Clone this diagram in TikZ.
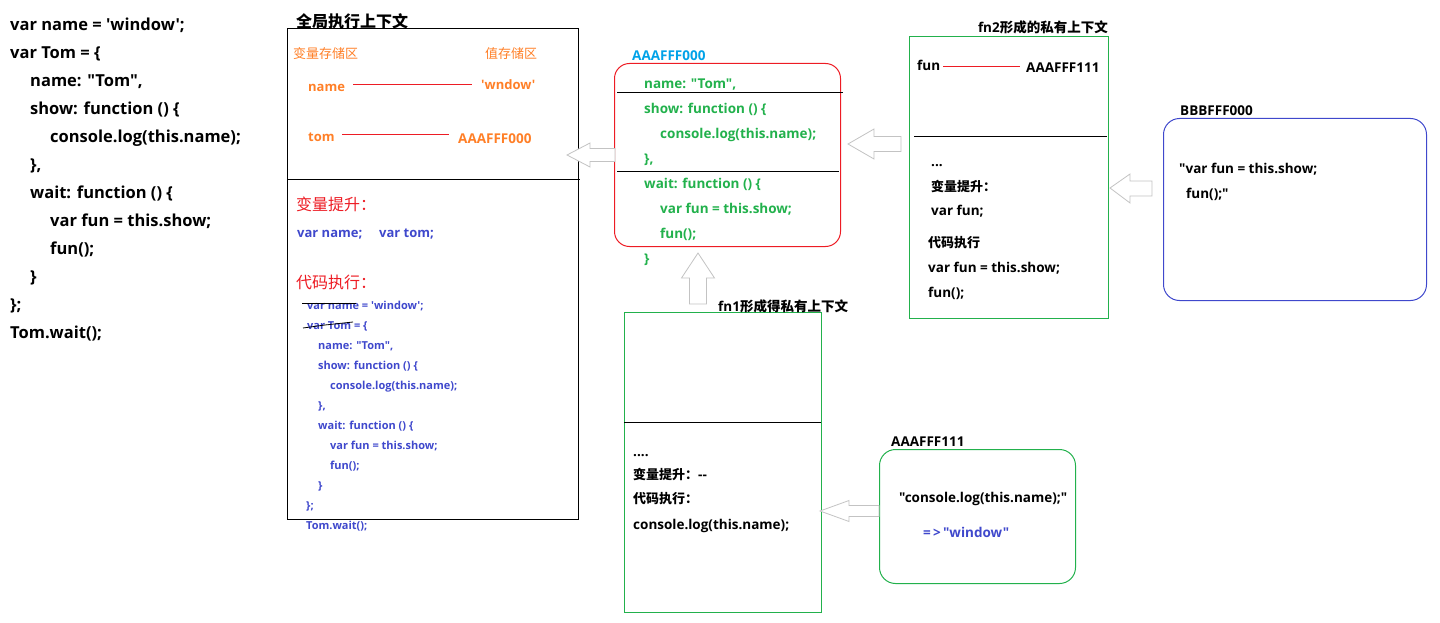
\documentclass[tikz,border=0pt]{standalone}
\usepackage{fontspec}
\setmainfont{Open Sans}[Ligatures=TeXOff]
\newfontfamily\cjk{Noto Sans CJK SC}
\definecolor{pgreen}{HTML}{22B14C}
\definecolor{pred}{HTML}{ED1C24}
\definecolor{porange}{HTML}{FF7F27}
\definecolor{pblue}{HTML}{3F48CC}
\definecolor{psky}{HTML}{00A2E8}
\definecolor{pgray}{HTML}{C3C3C3}
\begin{document}
\begin{tikzpicture}[x=1pt,y=-1pt,
  t/.style={anchor=mid west, inner sep=0pt, yshift=-3pt, font=\bfseries\fontsize{13.5}{16}\selectfont},
  big/.style={t, font=\bfseries\fontsize{16.5}{19}\selectfont},
  small/.style={t, font=\bfseries\fontsize{11}{13}\selectfont, text=pblue},
  head/.style={t, font=\cjk\fontsize{16}{19}\selectfont},
  cjkb/.style={t, font=\cjk\bfseries\fontsize{13}{15}\selectfont},
  box/.style={draw, line width=1pt, anchor=north west, inner sep=0pt},
  hollow/.style={draw=pgray, fill=white, line width=0.8pt, line join=miter},
  link/.style={draw=pred, line width=1pt}]
\useasboundingbox (0,0) rectangle (1440,623);

% ---------- left code ----------
\node[big] (l1)  at (10,25)  {var name = 'window';};
\node[big] (l2)  at (10,53)  {var Tom = \{};
\node[big] (l3)  at (30,81)  {name: "Tom",};
\node[big] (l4)  at (30,109) {show: function () \{};
\node[big] (l5)  at (50,137) {console.log(this.name);};
\node[big] (l6)  at (30,165) {\},};
\node[big] (l7)  at (30,193) {wait: function () \{};
\node[big] (l8)  at (50,221) {var fun = this.show;};
\node[big] (l9)  at (50,249) {fun();};
\node[big] (l10) at (30,277) {\}};
\node[big] (l11) at (10,305) {\};};
\node[big] (l12) at (10,333) {Tom.wait();};

% ---------- global context ----------
\node[box, minimum width=291pt, minimum height=491pt] (glob) at (287,28) {};
\node[head, font=\cjk\bfseries\fontsize{16}{19}\selectfont] (globt) at (296,22) {全局执行上下文};
\draw[line width=1pt] (287,179) -- (580,179);
\node[t, font=\cjk\fontsize{13}{15}\selectfont, text=porange] (vs) at (293,53) {变量存储区};
\node[t, font=\cjk\fontsize{13}{15}\selectfont, text=porange] (zs) at (485,53) {值存储区};
\node[t, text=porange, font=\bfseries\fontsize{13}{15}\selectfont] (gname) at (308,86) {name};
\node[t, text=porange, font=\bfseries\fontsize{13}{15}\selectfont] (gwin) at (481,84) {'wndow'};
\draw[link] (353,85) -- (472,85);
\node[t, text=porange, font=\bfseries\fontsize{13}{15}\selectfont] (gtom) at (308,136) {tom};
\node[t, text=porange] (gaddr) at (458,138) {AAAFFF000};
\draw[link] (342,135) -- (449,135);
\node[head, text=pred] (gh1) at (296,205) {变量提升：};
\node[t, text=pblue, font=\bfseries\fontsize{13}{15}\selectfont] (gv1) at (297,232) {var name;};
\node[t, text=pblue, font=\bfseries\fontsize{13}{15}\selectfont] (gv2) at (379,232) {var tom;};
\node[head, text=pred] (gh2) at (296,283) {代码执行：};
\node[small] (g1)  at (307,304) {var name = 'window';};
\node[small] (g2)  at (307,324) {var Tom = \{};
\node[small] (g3)  at (318,344) {name: "Tom",};
\node[small] (g4)  at (318,364) {show: function () \{};
\node[small] (g5)  at (330,384) {console.log(this.name);};
\node[small] (g6)  at (318,404) {\},};
\node[small] (g7)  at (318,424) {wait: function () \{};
\node[small] (g8)  at (330,444) {var fun = this.show;};
\node[small] (g9)  at (330,464) {fun();};
\node[small] (g10) at (318,484) {\}};
\node[small] (g11) at (306,504) {\};};
\node[small] (g12) at (306,524) {Tom.wait();};
\draw[line width=0.8pt] (302,303) -- (356,303);
\draw[line width=0.8pt] (303,328) -- (325,325) -- (353,322);

% ---------- heap AAAFFF000 ----------
\node[box, draw=pred, rounded corners=15pt, minimum width=226pt, minimum height=183pt] (heapA) at (614,63) {};
\node[t, text=psky] (heapAl) at (632,55) {AAAFFF000};
\node[t, text=pgreen] (a1) at (644,83)  {name: "Tom",};
\node[t, text=pgreen] (a2) at (644,108) {show: function () \{};
\node[t, text=pgreen] (a3) at (660,133) {console.log(this.name);};
\node[t, text=pgreen] (a4) at (644,158) {\},};
\node[t, text=pgreen] (a5) at (644,183) {wait: function () \{};
\node[t, text=pgreen] (a6) at (660,208) {var fun = this.show;};
\node[t, text=pgreen] (a7) at (660,233) {fun();};
\node[t, text=pgreen] (a8) at (644,258) {\}};
\draw[line width=1pt] (617,93) -- (843,93);
\draw[line width=1pt] (617,171) -- (839,171);

% ---------- fn2 context ----------
\node[box, draw=pgreen, minimum width=199pt, minimum height=282pt] (fn2) at (909,36) {};
\node[t, anchor=mid east] (fn2t) at (1108,27) {fn2{\cjk\bfseries 形成的私有上下文}};
\draw[line width=1pt] (914,137) -- (1107,137);
\node[t] (ffun) at (917,65) {fun};
\node[t] (faddr) at (1026,67) {AAAFFF111};
\draw[link] (943,67) -- (1020,67);
\node[t] (f1) at (931,161) {...};
\node[cjkb] (f2) at (931,186) {变量提升：};
\node[t] (f3) at (931,210) {var fun;};
\node[cjkb] (f4) at (928,242) {代码执行};
\node[t] (f5) at (928,267) {var fun = this.show;};
\node[t] (f6) at (928,292) {fun();};

% ---------- heap BBBFFF000 ----------
\node[box, draw=pblue, rounded corners=16pt, minimum width=263pt, minimum height=182pt] (heapB) at (1163,118) {};
\node[t] (heapBl) at (1180,110) {BBBFFF000};
\node[t] (b1) at (1179,168) {"var fun = this.show;};
\node[t] (b2) at (1186,193) {fun();"};

% ---------- fn1 context ----------
\node[box, draw=pgreen, minimum width=197pt, minimum height=300pt] (fn1) at (624,312) {};
\node[t] (fn1t) at (718,306) {fn1{\cjk\bfseries 形成得私有上下文}};
\draw[line width=1pt] (624,422) -- (821,422);
\node[t] (e1) at (633,451) {....};
\node[t] (e2) at (633,474) {{\cjk\bfseries\fontsize{13}{15}\selectfont 变量提升：}--};
\node[cjkb] (e3) at (633,498) {代码执行：};
\node[t] (e4) at (633,524) {console.log(this.name);};

% ---------- heap AAAFFF111 ----------
\node[box, draw=pgreen, rounded corners=16pt, minimum width=196pt, minimum height=134pt] (heapC) at (879,449) {};
\node[t] (heapCl) at (891,441) {AAAFFF111};
\node[t] (c1) at (899,497) {"console.log(this.name);"};
\node[t, text=pblue] (c2) at (923,532) {=\,>\,"window"};

% ---------- hollow arrows ----------
\coordinate (t1) at (567,155);
\draw[hollow] (t1) -- ++(23,-12) -- ++(0,5.5) -- ++(25,0) -- ++(0,13) -- ++(-25,0) -- ++(0,5.5) -- cycle;
\coordinate (t2) at (848,144);
\draw[hollow] (t2) -- ++(26,-15) -- ++(0,7.5) -- ++(27,0) -- ++(0,15) -- ++(-27,0) -- ++(0,7.5) -- cycle;
\coordinate (t3) at (1110,188);
\draw[hollow] (t3) -- ++(20,-14) -- ++(0,7) -- ++(22,0) -- ++(0,15) -- ++(-22,0) -- ++(0,7) -- cycle;
\coordinate (t4) at (698,253);
\draw[hollow] (t4) -- ++(16.5,25) -- ++(-8,0) -- ++(0,26) -- ++(-17,0) -- ++(0,-26) -- ++(-8,0) -- cycle;
\coordinate (t5) at (820,511);
\draw[hollow] (t5) -- ++(29,-10.5) -- ++(0,5) -- ++(30,0) -- ++(0,11) -- ++(-30,0) -- ++(0,5) -- cycle;
\end{tikzpicture}
\end{document}
